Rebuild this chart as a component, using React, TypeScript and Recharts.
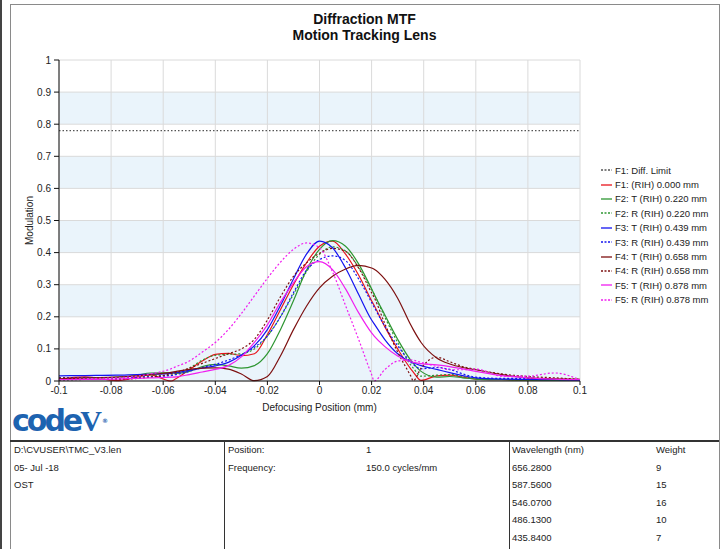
import { CartesianGrid, Line, LineChart, XAxis, YAxis } from 'recharts';

// defocus positions (mm)
const xs = [
  -0.1, -0.09, -0.078, -0.07, -0.065, -0.057, -0.055, -0.05, -0.045, -0.04, -0.035, -0.03, -0.025, -0.02,
  -0.015, -0.01, -0.005, 0, 0.005, 0.01, 0.015, 0.02, 0.021, 0.025, 0.03, 0.035, 0.036, 0.039, 0.045, 0.05,
  0.055, 0.06, 0.07, 0.08, 0.09, 0.1,
];

const f1 = [
  0.006, 0.013, 0.001, 0.012, 0.019, 0.0, 0.008, 0.035, 0.062, 0.083, 0.086, 0.079, 0.085, 0.145, 0.222, 0.3,
  0.368, 0.42, 0.436, 0.395, 0.33, 0.25, 0.235, 0.17, 0.1, 0.038, 0.028, 0.002, 0.016, 0.018, 0.012, 0.006,
  0.004, 0.003, 0.003, 0.002,
];
const f2t = [
  0.004, 0.008, 0.012, 0.018, 0.025, 0.026, 0.024, 0.03, 0.045, 0.052, 0.047, 0.04, 0.048, 0.085, 0.16, 0.25,
  0.345, 0.41, 0.437, 0.42, 0.365, 0.287, 0.27, 0.207, 0.13, 0.065, 0.055, 0.03, 0.012, 0.014, 0.01, 0.006,
  0.004, 0.003, 0.002, 0.002,
];
const f2r = [
  0.002, 0.005, 0.008, 0.012, 0.015, 0.018, 0.022, 0.04, 0.065, 0.08, 0.083, 0.085, 0.1, 0.14, 0.2, 0.27,
  0.34, 0.395, 0.418, 0.405, 0.355, 0.285, 0.27, 0.2, 0.12, 0.05, 0.04, 0.015, 0.018, 0.02, 0.014, 0.008,
  0.005, 0.004, 0.003, 0.002,
];
const f3t = [
  0.016, 0.017, 0.018, 0.02, 0.021, 0.024, 0.026, 0.033, 0.04, 0.047, 0.058, 0.08, 0.11, 0.16, 0.235, 0.318,
  0.395, 0.436, 0.415, 0.352, 0.27, 0.19, 0.178, 0.13, 0.085, 0.06, 0.057, 0.048, 0.036, 0.026, 0.017, 0.01,
  0.006, 0.005, 0.004, 0.003,
];
const f3r = [
  0.01, 0.01, 0.01, 0.011, 0.013, 0.017, 0.02, 0.03, 0.042, 0.052, 0.065, 0.082, 0.105, 0.14, 0.2, 0.275,
  0.345, 0.378, 0.39, 0.375, 0.318, 0.245, 0.23, 0.172, 0.11, 0.06, 0.052, 0.038, 0.042, 0.036, 0.022, 0.012,
  0.008, 0.008, 0.005, 0.003,
];
const f4t = [
  0.006, 0.01, 0.012, 0.016, 0.02, 0.027, 0.03, 0.036, 0.04, 0.041, 0.037, 0.022, 0.001, 0.014, 0.078, 0.16,
  0.233, 0.29, 0.326, 0.349, 0.36, 0.352, 0.348, 0.318, 0.258, 0.175, 0.16, 0.12, 0.072, 0.053, 0.042, 0.035,
  0.02, 0.01, 0.007, 0.005,
];
const f4r = [
  0.01, 0.008, 0.005, 0.008, 0.012, 0.022, 0.026, 0.04, 0.055, 0.07, 0.085, 0.1, 0.13, 0.19, 0.262, 0.326,
  0.368, 0.398, 0.413, 0.404, 0.352, 0.275, 0.26, 0.18, 0.09, 0.016, 0.001, 0.04, 0.074, 0.06, 0.045, 0.036,
  0.022, 0.014, 0.01, 0.005,
];
const f5t = [
  0.004, 0.005, 0.006, 0.008, 0.01, 0.012, 0.013, 0.02, 0.028, 0.036, 0.048, 0.075, 0.12, 0.175, 0.245, 0.306,
  0.356, 0.372, 0.347, 0.287, 0.213, 0.15, 0.14, 0.108, 0.078, 0.06, 0.058, 0.054, 0.05, 0.045, 0.038, 0.03,
  0.017, 0.01, 0.006, 0.004,
];
const f5r = [
  0.004, 0.007, 0.01, 0.015, 0.022, 0.038, 0.045, 0.062, 0.09, 0.12, 0.16, 0.21, 0.265, 0.32, 0.37, 0.41,
  0.43, 0.415, 0.34, 0.235, 0.13, 0.02, 0.0, 0.035, 0.062, 0.066, 0.065, 0.058, 0.045, 0.035, 0.035, 0.037,
  0.015, 0.015, 0.025, 0.004,
];

// diffraction limit is flat across the range
const diffX = [-0.1, 0.1];
const diffY = [0.78, 0.78];

const xTicks = [-0.1, -0.08, -0.06, -0.04, -0.02, 0, 0.02, 0.04, 0.06, 0.08, 0.1];
const yTicks = [0, 0.1, 0.2, 0.3, 0.4, 0.5, 0.6, 0.7, 0.8, 0.9, 1];

const series = [
  { key: 'f1', name: 'F1: (RIH) 0.000 mm', values: f1, color: '#e8141b', dotted: false },
  { key: 'f2t', name: 'F2: T (RIH) 0.220 mm', values: f2t, color: '#2e9632', dotted: false },
  { key: 'f2r', name: 'F2: R (RIH) 0.220 mm', values: f2r, color: '#2e9632', dotted: true },
  { key: 'f3t', name: 'F3: T (RIH) 0.439 mm', values: f3t, color: '#1414f0', dotted: false },
  { key: 'f3r', name: 'F3: R (RIH) 0.439 mm', values: f3r, color: '#1414f0', dotted: true },
  { key: 'f4t', name: 'F4: T (RIH) 0.658 mm', values: f4t, color: '#7d1010', dotted: false },
  { key: 'f4r', name: 'F4: R (RIH) 0.658 mm', values: f4r, color: '#7d1010', dotted: true },
  { key: 'f5t', name: 'F5: T (RIH) 0.878 mm', values: f5t, color: '#f01ef0', dotted: false },
  { key: 'f5r', name: 'F5: R (RIH) 0.878 mm', values: f5r, color: '#f01ef0', dotted: true },
];

const legendItems = [
  { name: 'F1: Diff. Limit', color: '#555555', dotted: true },
  ...series.map((s) => ({ name: s.name, color: s.color, dotted: s.dotted })),
];

const fileInfo = ['D:\\CVUSER\\TMC_V3.len', '05- Jul -18', 'OST'];
const paramNames = ['Position:', 'Frequency:'];
const paramValues = ['1', '150.0 cycles/mm'];
const wavelengths = ['656.2800', '587.5600', '546.0700', '486.1300', '435.8400'];
const weights = ['9', '15', '16', '10', '7'];

const data = xs.map((x, i) => {
  const row: Record<string, number> = { x };
  series.forEach((s) => {
    row[s.key] = s.values[i];
  });
  return row;
});
const diffData = diffX.map((x, i) => ({ x, diff: diffY[i] }));

const FONT = '"Liberation Sans", Arial, sans-serif';
const rowY = [450, 467.5, 485, 502.5, 520, 537.5];

const cell = (x: number, y: number, text: string) => (
  <div
    key={`${x}-${y}`}
    style={{ position: 'absolute', left: x, top: y - 6, fontSize: 9.5, lineHeight: '12px', color: '#222', whiteSpace: 'nowrap' }}
  >
    {text}
  </div>
);

export default function App() {
  return (
    <div style={{ position: 'absolute', left: 0, top: 0, width: 725, height: 549, background: '#fff', fontFamily: FONT, overflow: 'hidden' }}>
      <div style={{ position: 'absolute', left: 0, top: 0, width: 2, height: 549, background: '#444' }} />
      <div style={{ position: 'absolute', left: 10, top: 4, width: 708, height: 560, border: '1px solid #8a8a8a' }} />

      <div style={{ position: 'absolute', left: 0, width: 729, top: 12, textAlign: 'center', fontWeight: 'bold', fontSize: 14, lineHeight: '15.5px', color: '#111' }}>
        Diffraction MTF
        <br />
        Motion Tracking Lens
      </div>

      <div style={{ position: 'absolute', left: 0, top: 40 }}>
        <LineChart width={600} height={380} margin={{ top: 20, right: 20, bottom: 7, left: 9 }}>
          <CartesianGrid stroke="#dadada" horizontalFill={['#ffffff', '#eaf4fb']} fillOpacity={1} />
          <XAxis
            type="number"
            dataKey="x"
            domain={[-0.1, 0.1]}
            ticks={xTicks}
            tickFormatter={(v: number) => String(v)}
            height={32}
            tickSize={4}
            tickMargin={2}
            stroke="#111"
            tick={{ fontSize: 10, fill: '#222', fontFamily: FONT }}
            label={{ value: 'Defocusing Position (mm)', position: 'insideBottom', offset: 2, fontSize: 10, fill: '#222', fontFamily: FONT }}
            allowDataOverflow
          />
          <YAxis
            type="number"
            domain={[0, 1]}
            ticks={yTicks}
            tickFormatter={(v: number) => String(v)}
            width={50}
            tickSize={5}
            tickMargin={3}
            stroke="#111"
            tick={{ fontSize: 10, fill: '#222', fontFamily: FONT }}
            label={{ value: 'Modulation', angle: -90, position: 'insideLeft', offset: 20, fontSize: 10, fill: '#222', fontFamily: FONT, style: { textAnchor: 'middle' } }}
          />
          <Line
            data={diffData}
            dataKey="diff"
            name="F1: Diff. Limit"
            stroke="#555555"
            strokeWidth={1.2}
            strokeDasharray="1.5 2"
            dot={false}
            activeDot={false}
            isAnimationActive={false}
          />
          {series.map((s) => (
            <Line
              key={s.key}
              data={data}
              dataKey={s.key}
              name={s.name}
              type="monotone"
              stroke={s.color}
              strokeWidth={1.2}
              strokeDasharray={s.dotted ? '2 2' : undefined}
              dot={false}
              activeDot={false}
              isAnimationActive={false}
            />
          ))}
        </LineChart>
      </div>

      <div style={{ position: 'absolute', left: 601, top: 163 }}>
        {legendItems.map((it) => (
          <div key={it.name} style={{ display: 'flex', alignItems: 'center', height: 14.4, fontSize: 9.5, color: '#222', whiteSpace: 'nowrap' }}>
            <svg width={11} height={4} style={{ marginRight: 3 }}>
              <line x1={0} y1={2} x2={11} y2={2} stroke={it.color} strokeWidth={1.3} strokeDasharray={it.dotted ? '2 1.5' : undefined} />
            </svg>
            {it.name}
          </div>
        ))}
      </div>

      <div style={{ position: 'absolute', left: 12, top: 403, fontFamily: '"DejaVu Sans", sans-serif', fontWeight: 'bold', fontSize: 30, letterSpacing: -3, color: '#1d63b0', lineHeight: '36px' }}>
        code<span style={{ fontFamily: '"Liberation Serif", serif', letterSpacing: 0 }}>V</span>
        <span style={{ fontSize: 6, verticalAlign: 'top', letterSpacing: 0 }}>®</span>
      </div>

      <div style={{ position: 'absolute', left: 10, top: 440, width: 709, height: 2, background: '#333' }} />
      <div style={{ position: 'absolute', left: 224, top: 441, width: 1, height: 110, background: '#333' }} />
      <div style={{ position: 'absolute', left: 509, top: 441, width: 1, height: 110, background: '#333' }} />

      {fileInfo.map((t, i) => cell(14, rowY[i], t))}
      {paramNames.map((t, i) => cell(228, rowY[i], t))}
      {paramValues.map((t, i) => cell(366, rowY[i], t))}
      {cell(512, rowY[0], 'Wavelength (nm)')}
      {cell(656, rowY[0], 'Weight')}
      {wavelengths.map((t, i) => cell(512, rowY[i + 1], t))}
      {weights.map((t, i) => cell(656, rowY[i + 1], t))}
    </div>
  );
}
